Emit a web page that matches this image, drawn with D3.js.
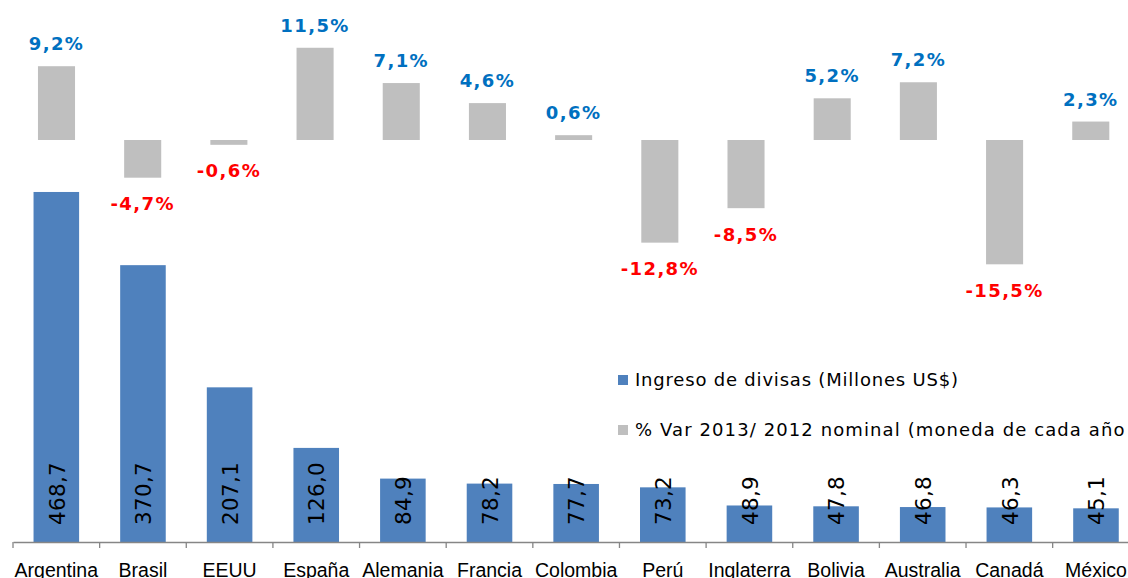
<!DOCTYPE html>
<html>
<head>
<meta charset="utf-8">
<script src="https://cdn.jsdelivr.net/npm/d3@7"></script>
<style>
  html, body { margin: 0; padding: 0; background: #fff; }
  svg { display: block; }
</style>
</head>
<body>
<svg id="chart" width="1128" height="578"></svg>
<script>
const categories = ["Argentina","Brasil","EEUU","España","Alemania","Francia","Colombia","Perú","Inglaterra","Bolivia","Australia","Canadá","México"];
const ingresos = [468.7,370.7,207.1,126.0,84.9,78.2,77.7,73.2,48.9,47.8,46.8,46.3,45.1];
const variacion = [9.2,-4.7,-0.6,11.5,7.1,4.6,0.6,-12.8,-8.5,5.2,7.2,-15.5,2.3];
const legendLabels = ["Ingreso de divisas (Millones US$)", "% Var 2013/ 2012 nominal (moneda de cada año"];

const W = 1128, H = 578;
const svg = d3.select("#chart");

const BLUE = "#4F81BD", GRAY = "#BFBFBF";

// Primary axis (blue bars)
const xBlue = d3.scaleBand().domain(categories).range([13, 1139.3]).paddingInner(0.474).paddingOuter(0.237);
const yBlue = d3.scaleLinear().domain([0, 700]).range([542, 542 - 700 * 0.7468]);

// Secondary axis (gray bars)
const xGray = d3.scaleBand().domain(categories).range([13.4, 13.4 + 13 * 86.19]).paddingInner(0.57).paddingOuter(0.285);
const yGray = d3.scaleLinear().domain([-20, 15]).range([140 + 20 * 8.02, 140 - 15 * 8.02]);

const fmt = v => v.toFixed(1).replace(".", ",");

// Gray bars
svg.append("g").selectAll("rect").data(variacion).join("rect")
  .attr("x", (d, i) => xGray(categories[i]))
  .attr("width", xGray.bandwidth())
  .attr("y", d => yGray(Math.max(0, d)))
  .attr("height", d => Math.abs(yGray(d) - yGray(0)))
  .attr("fill", GRAY);

// Gray labels
svg.append("g").selectAll("text").data(variacion).join("text")
  .attr("x", (d, i) => xGray(categories[i]) + xGray.bandwidth() / 2)
  .attr("y", d => d >= 0 ? yGray(d) - 16 : yGray(d) + 32.4)
  .attr("text-anchor", "middle")
  .attr("font-family", "DejaVu Sans, Verdana, sans-serif")
  .attr("font-weight", "bold")
  .attr("font-size", "18px")
  .attr("letter-spacing", "1.4px")
  .attr("fill", d => d >= 0 ? "#0070C0" : "#FF0000")
  .text(d => fmt(d) + "%");

// Blue bars
svg.append("g").selectAll("rect").data(ingresos).join("rect")
  .attr("x", (d, i) => xBlue(categories[i]))
  .attr("width", xBlue.bandwidth())
  .attr("y", d => yBlue(d))
  .attr("height", d => yBlue(0) - yBlue(d))
  .attr("fill", BLUE);

// Blue labels (rotated)
svg.append("g").selectAll("text").data(ingresos).join("text")
  .attr("transform", (d, i) => `translate(${xBlue(categories[i]) + xBlue.bandwidth() / 2 + 0.5},${yBlue(0) - 17}) rotate(-90)`)
  .attr("dy", "0.36em")
  .attr("text-anchor", "start")
  .attr("font-family", "DejaVu Sans, Verdana, sans-serif")
  .attr("font-size", "21.5px")
  .attr("letter-spacing", "0.3px")
  .attr("fill", "#000")
  .text(d => fmt(d));

// X axis
const axis = d3.axisBottom(xBlue).tickSize(0).tickSizeOuter(0);
const gAxis = svg.append("g").attr("transform", `translate(0,${yBlue(0)})`).call(axis);
gAxis.select(".domain").attr("stroke", "#868686").attr("stroke-width", 1.3);
gAxis.selectAll(".tick text")
  .attr("y", 35).attr("dy", 0)
  .attr("font-family", "Liberation Sans, Arial, sans-serif")
  .attr("font-size", "19.5px")
  .attr("fill", "#000");
// tick marks at band boundaries
const step = xBlue.step();
const bounds = d3.range(categories.length + 1).map(i => xBlue.range()[0] + i * step);
gAxis.selectAll(".bound").data(bounds).join("line")
  .attr("class", "bound")
  .attr("x1", d => d).attr("x2", d => d)
  .attr("y1", 0).attr("y2", 6)
  .attr("stroke", "#868686").attr("stroke-width", 1.3);

// Legend
const legend = svg.append("g");
[BLUE, GRAY].forEach((c, i) => {
  const y = 375 + i * 50;
  legend.append("rect").attr("x", 618).attr("y", y).attr("width", 10).attr("height", 10).attr("fill", c);
  legend.append("text").attr("x", 635).attr("y", y + 11)
    .attr("font-family", "DejaVu Sans, Verdana, sans-serif")
    .attr("font-size", "18px")
    .attr("letter-spacing", i === 0 ? "0.8px" : "1.1px")
    .attr("fill", "#000")
    .text(legendLabels[i]);
});
</script>
</body>
</html>
